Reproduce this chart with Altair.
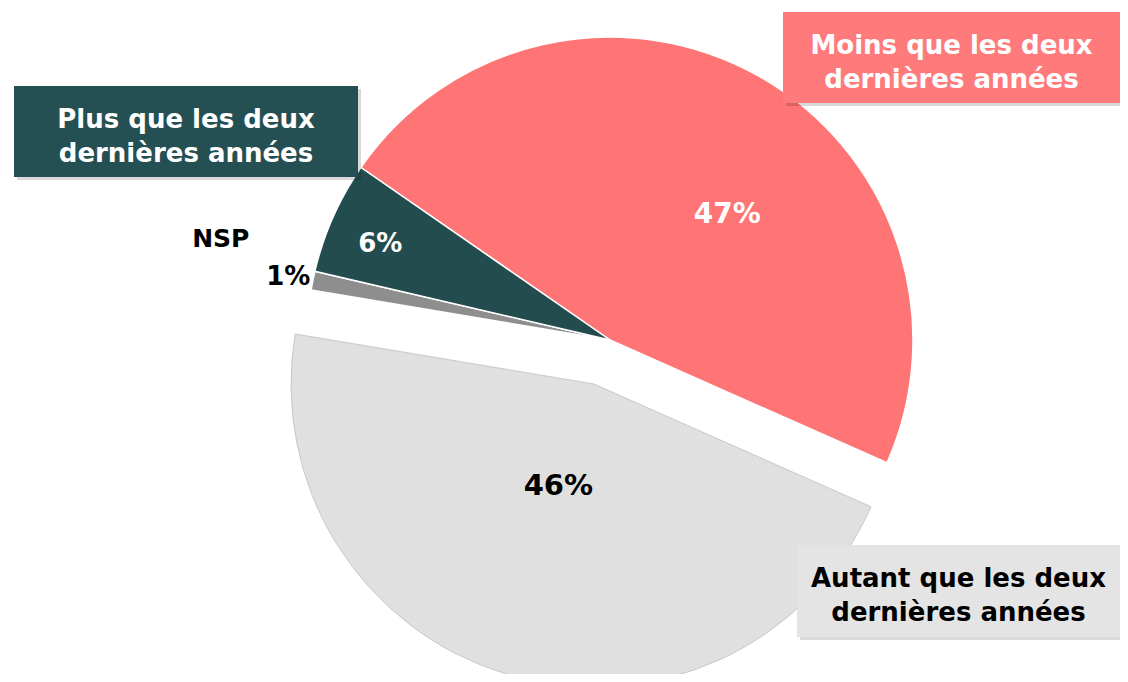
import math
import altair as alt
import pandas as pd

categories = [
    "Moins que les deux dernières années",
    "Autant que les deux dernières années",
    "NSP",
    "Plus que les deux dernières années",
]
values = [47, 46, 1, 6]
pct_labels = ["47%", "46%", "1%", "6%"]
colors = ["#FF7474", "#E0E0E0", "#8E8E8E", "#234C4E"]

df = pd.DataFrame({"cat": categories, "value": values, "label": pct_labels, "order": [0, 1, 2, 3]})

A0 = math.radians(304.7)
theta_scale = alt.Scale(domain=[0, 100], range=[A0, A0 + 2 * math.pi])
color_scale = alt.Scale(domain=categories, range=colors)

CX, CY = 602, 332          # pie centre
EX, EY = 586, 376          # exploded slice centre
R = 303

base = alt.Chart(df).encode(
    theta=alt.Theta("value:Q", stack=True, scale=theta_scale),
    order=alt.Order("order:Q"),
)

AUT = categories[1]

pie_main = base.mark_arc(outerRadius=R, stroke="white", strokeWidth=1.5).encode(
    x=alt.value(CX), y=alt.value(CY),
    color=alt.Color("cat:N", scale=color_scale, legend=None),
    opacity=alt.condition(alt.datum.cat == AUT, alt.value(0), alt.value(1)),
)
pie_expl = base.mark_arc(outerRadius=R, stroke="#C8C8C8", strokeWidth=1).encode(
    x=alt.value(EX), y=alt.value(EY),
    color=alt.Color("cat:N", scale=color_scale, legend=None),
    opacity=alt.condition(alt.datum.cat == AUT, alt.value(1), alt.value(0)),
)


def label_layer(cat, radius, cx, cy, color, text_value=None, dx=0, dy=0, size=24):
    txt = alt.datum.label if text_value is None else alt.expr.toString(text_value)
    return base.mark_text(
        radius=radius, font="DejaVu Sans", fontWeight="bold", fontSize=size,
        color=color, dx=dx, dy=dy, align="center", baseline="middle",
    ).transform_calculate(
        shown=alt.expr.if_(alt.datum.cat == cat, txt, "")
    ).encode(
        x=alt.value(cx), y=alt.value(cy),
        text=alt.Text("shown:N"),
    )


lbl_moins = label_layer(categories[0], 170, CX, CY, "white", dx=34, dy=23, size=28)
lbl_aut = label_layer(categories[1], 110, EX, EY, "black", dx=-4, dy=-3, size=29)
lbl_nsp = label_layer(categories[2], 326, CX, CY, "black", dx=-2, dy=1, size=26)
lbl_plus = label_layer(categories[3], 249, CX, CY, "white", dx=-2, dy=5, size=26)
lbl_nsp_name = label_layer(categories[2], 400, CX, CY, "black", text_value="NSP", dx=3, dy=-23, size=25)

box_df = pd.DataFrame({"k": [0]})


def box(x, x2, y, y2, fill, lines, tcolor):
    shadow = alt.Chart(box_df).mark_rect(color="#000000", opacity=0.15).encode(
        x=alt.value(x + 3), x2=alt.value(min(x2 + 3, 1112)), y=alt.value(y + 3), y2=alt.value(y2 + 3)
    )
    rect = alt.Chart(box_df).mark_rect(color=fill).encode(
        x=alt.value(x), x2=alt.value(x2), y=alt.value(y), y2=alt.value(y2)
    )
    txt = alt.Chart(box_df).mark_text(
        font="DejaVu Sans", fontWeight="bold", fontSize=26, color=tcolor,
        align="center", baseline="middle", lineHeight=34, dy=-12,
    ).encode(
        x=alt.value((x + x2) / 2), y=alt.value((y + y2) / 2), text=alt.value(lines)
    )
    return [shadow, rect, txt]


boxes = []
boxes += box(6, 350, 78, 169, "#255053", ["Plus que les deux", "dernières années"], "white")
boxes += box(775, 1112, 4, 95, "#FF7A7A", ["Moins que les deux", "dernières années"], "white")
boxes += box(789, 1112, 537, 629, "#E4E4E4", ["Autant que les deux", "dernières années"], "black")

chart = alt.layer(
    pie_main, pie_expl, lbl_moins, lbl_aut, lbl_nsp, lbl_plus, lbl_nsp_name, *boxes
).properties(
    width=1112, height=666, padding=0, background="white",
    autosize=alt.AutoSizeParams(type="none"),
).configure_view(stroke=None)

chart.save("out.html", embed_options={"renderer": "svg", "actions": False})
